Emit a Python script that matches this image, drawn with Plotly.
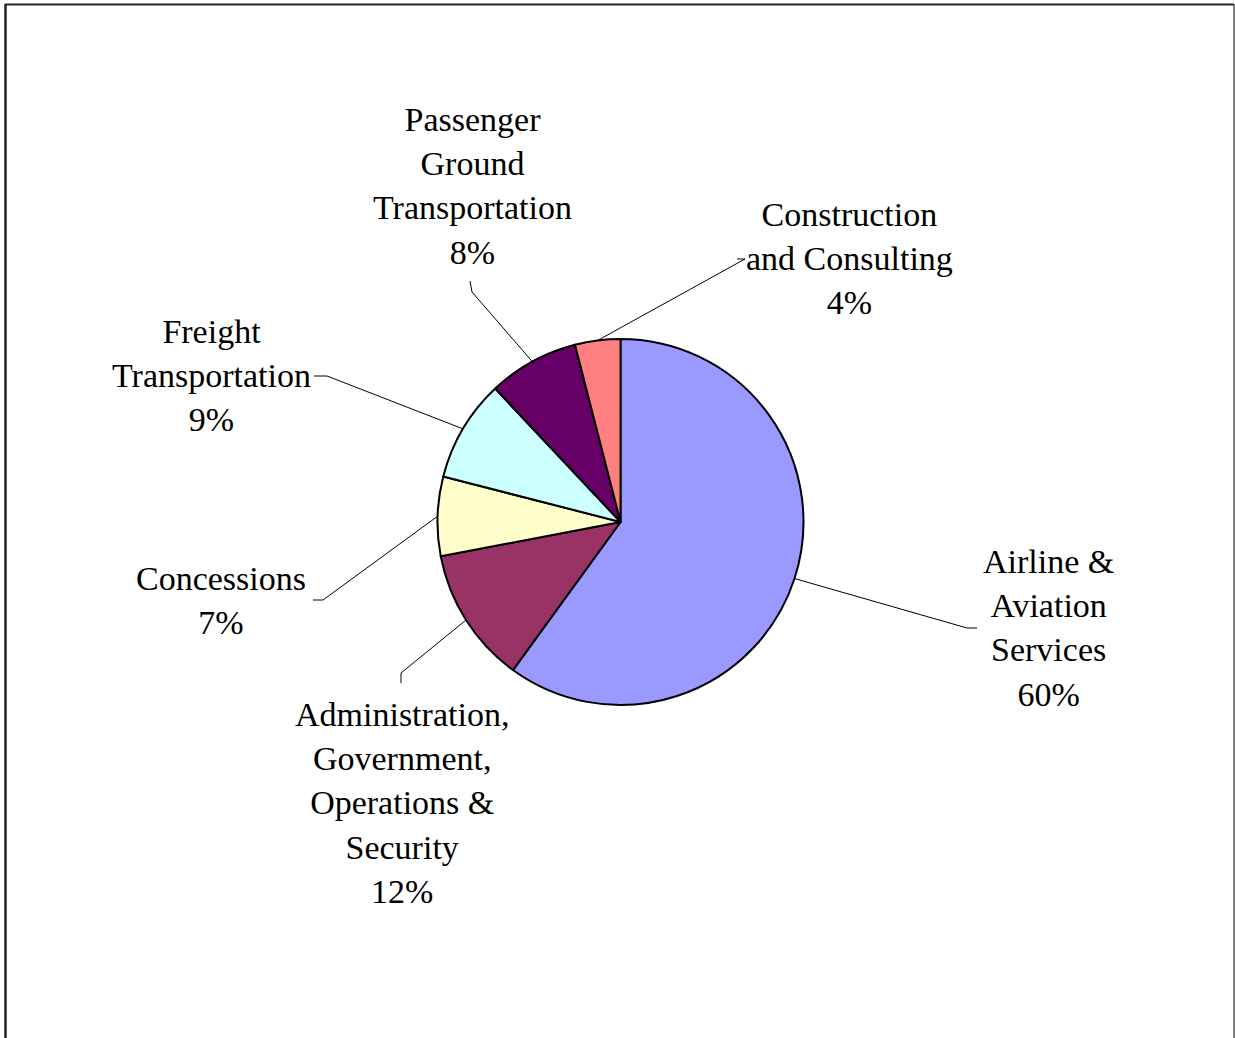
import math
import plotly.graph_objects as go

# ---- data ----
categories = [
    "Airline & Aviation Services",
    "Administration, Government, Operations & Security",
    "Concessions",
    "Freight Transportation",
    "Passenger Ground Transportation",
    "Construction and Consulting",
]
label_texts = [
    "Airline &<br>Aviation<br>Services<br>60%",
    "Administration,<br>Government,<br>Operations &<br>Security<br>12%",
    "Concessions<br>7%",
    "Freight<br>Transportation<br>9%",
    "Passenger<br>Ground<br>Transportation<br>8%",
    "Construction<br>and Consulting<br>4%",
]
values = [60, 12, 7, 9, 8, 4]
colors = ["#9999FF", "#993366", "#FFFFCC", "#CCFFFF", "#660066", "#FF8080"]

# ---- layout (pixels) ----
W, H = 1235, 1038
CX, CY, R = 620.5, 522, 183
# label centres, leader elbows and leader ends (pixel positions)
label_pos = [(1048, 628), (402, 803), (221, 600), (211, 376), (472, 186), (850, 259)]
elbows = [(967, 628), (401, 673), (323, 600), (327, 376), (472, 292), (745, 259)]
ends = [(977, 628), (401, 683), (313, 600), (314, 376), (470, 281), (737, 259)]


def px(x):
    return x / W


def py(y):
    return 1 - y / H


fig = go.Figure()
fig.add_trace(go.Pie(
    labels=categories,
    values=values,
    sort=False,
    direction="clockwise",
    rotation=0,
    textinfo="none",
    hoverinfo="label+percent",
    marker=dict(colors=colors, line=dict(color="black", width=2)),
    showlegend=False,
    domain=dict(x=[px(CX - R), px(CX + R)], y=[py(CY + R), py(CY - R)]),
))

shapes = []
total = sum(values)
cum = 0
annotations = []
for i, v in enumerate(values):
    mid = (cum + v / 2) / total
    cum += v
    ang = 2 * math.pi * mid
    sx = CX + R * math.sin(ang)
    sy = CY - R * math.cos(ang)
    ex, ey = elbows[i]
    fx, fy = ends[i]
    path = f"M {px(sx)},{py(sy)} L {px(ex)},{py(ey)} L {px(fx)},{py(fy)}"
    shapes.append(dict(type="path", xref="paper", yref="paper", path=path,
                       line=dict(color="black", width=1)))
    lx, ly = label_pos[i]
    annotations.append(dict(
        x=px(lx), y=py(ly), xref="paper", yref="paper",
        text=label_texts[i], showarrow=False,
        xanchor="center", yanchor="middle", align="center",
        font=dict(family="Times New Roman, Liberation Serif, serif", size=34, color="black"),
    ))

# chart-area frame
shapes.append(dict(type="line", xref="paper", yref="paper",
                   x0=px(5), x1=px(1234), y0=py(4.5), y1=py(4.5),
                   line=dict(color="#222222", width=2)))
shapes.append(dict(type="line", xref="paper", yref="paper",
                   x0=px(5.5), x1=px(5.5), y0=py(4), y1=py(1040),
                   line=dict(color="#222222", width=2.5)))
shapes.append(dict(type="line", xref="paper", yref="paper",
                   x0=px(1234), x1=px(1234), y0=py(4), y1=py(1040),
                   line=dict(color="#555555", width=1.5)))

fig.update_layout(
    width=W, height=H,
    margin=dict(l=0, r=0, t=0, b=0),
    paper_bgcolor="white",
    plot_bgcolor="white",
    shapes=shapes,
    annotations=annotations,
)

fig.write_html("out.html")
